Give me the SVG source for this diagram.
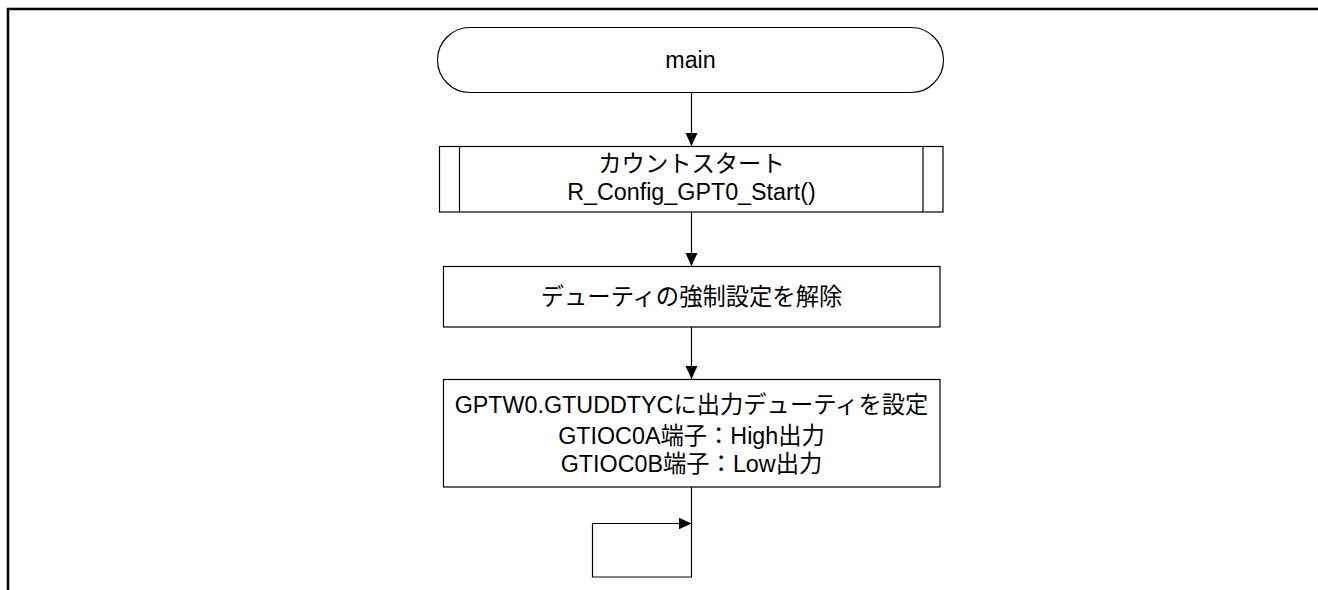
<svg xmlns="http://www.w3.org/2000/svg" width="1318" height="590" viewBox="0 0 1318 590">
<style>
.shape{fill:#fff;stroke:#000;stroke-width:1.2}
.txt{font-family:"Liberation Sans","Noto Sans CJK JP",sans-serif;font-size:23.3px;fill:#000;text-anchor:middle}
.conn{fill:none;stroke:#000;stroke-width:1.2}
.frame{fill:none;stroke:#000;stroke-width:2.5}
</style>
<defs>
<marker id="arrow" markerUnits="userSpaceOnUse" markerWidth="14" markerHeight="13" refX="13" refY="6" orient="auto">
<path d="M0,0 L13,6 L0,12 Z" fill="#000"/>
</marker>
</defs>
<path class="frame" d="M8,590 L8,9 L1318,9"/>
<g id="connectors">
<line class="conn" x1="691.5" y1="92" x2="691.5" y2="146" marker-end="url(#arrow)"/>
<line class="conn" x1="691.5" y1="212" x2="691.5" y2="266" marker-end="url(#arrow)"/>
<line class="conn" x1="691.5" y1="327" x2="691.5" y2="379" marker-end="url(#arrow)"/>
<path class="conn" d="M691.5,487 L691.5,577 L592.5,577 L592.5,523.5 L691.5,523.5" marker-end="url(#arrow)"/>
</g>
<g id="main">
<rect class="shape" x="437.5" y="27.5" width="506" height="65" rx="32.5" ry="32.5"/>
<text class="txt" x="690.5" y="68">main</text>
</g>
<g id="count-start">
<rect class="shape" x="439.5" y="146.5" width="503.5" height="65.5"/>
<line class="shape" x1="459.5" y1="146.5" x2="459.5" y2="212"/>
<line class="shape" x1="923" y1="146.5" x2="923" y2="212"/>
<text class="txt" x="691.5" y="172">カウントスタート</text>
<text class="txt" x="691.5" y="200">R_Config_GPT0_Start()</text>
</g>
<g id="duty-release">
<rect class="shape" x="443.5" y="266.5" width="496.5" height="60.5"/>
<text class="txt" x="691.5" y="305">デューティの強制設定を解除</text>
</g>
<g id="duty-set">
<rect class="shape" x="443.5" y="379.5" width="496.5" height="107.5"/>
<text class="txt" x="691.5" y="413">GPTW0.GTUDDTYCに出力デューティを設定</text>
<text class="txt" x="691.5" y="444">GTIOC0A端子：High出力</text>
<text class="txt" x="691.5" y="472">GTIOC0B端子：Low出力</text>
</g>
</svg>
